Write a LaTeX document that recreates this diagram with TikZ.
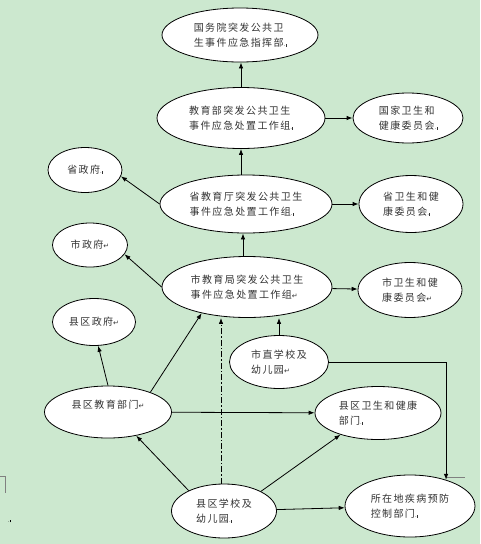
\documentclass[tikz,border=0pt]{standalone}
\usepackage{fontspec}
\usetikzlibrary{shapes.geometric,arrows.meta}
\newfontfamily\cjk[LetterSpace=14]{Noto Sans CJK SC}
\newfontfamily\symf{DejaVu Sans}
\definecolor{bggreen}{RGB}{204,232,207}
\newcommand{\retmk}{{\symf\fontsize{7}{7}\selectfont\char"21B5}}
\newcommand{\parmk}{{\fontsize{6}{6}\selectfont.\kern0.4pt\rule{0.5pt}{2.5pt}}}

\begin{document}
\begin{tikzpicture}[x=1pt, y=-1pt,
        ell/.style={ellipse, draw, fill=white, line width=0.8pt, inner sep=0pt,
            align=left, text=black!80, font=\cjk\fontsize{10}{15.5}\selectfont},
        flow/.style={line width=0.8pt, -{Latex[length=6pt,width=4.5pt]}}]
        \fill[bggreen] (0,0) rectangle (480,544);
        \useasboundingbox (0,0) rectangle (480,544);
        \node[ell, minimum width=156, minimum height=54] (gwy) at (240,35)
            {国务院突发公共卫\\生事件应急指挥部\parmk};
        \node[ell, minimum width=168, minimum height=61] (jyb) at (241,118)
            {教育部突发公共卫生\\事件应急处置工作组\parmk};
        \node[ell, minimum width=110, minimum height=50] (gjwj) at (408,118)
            {国家卫生和\\健康委员会\parmk};
        \node[ell, minimum width=172, minimum height=58] (sjyt) at (246,204)
            {省教育厅突发公共卫生\\事件应急处置工作组\parmk};
        \node[ell, minimum width=104, minimum height=57] (swj) at (411,204)
            {省卫生和健\\康委员会\parmk};
        \node[ell, minimum width=74, minimum height=45] (szf) at (85,170)
            {省政府\parmk};
        \node[ell, minimum width=75, minimum height=44] (shizf) at (90,245)
            {市政府\retmk};
        \node[ell, minimum width=170, minimum height=61] (sjyj) at (247,287)
            {市教育局突发公共卫生\\事件应急处置工作组\retmk};
        \node[ell, minimum width=104, minimum height=55] (shiwj) at (410,290)
            {市卫生和健\\康委员会\retmk};
        \node[ell, minimum width=83, minimum height=47] (xqzf) at (94,322)
            {县区政府\retmk};
        \node[ell, minimum width=99, minimum height=53] (szxx) at (279,362)
            {市直学校及\\幼儿园\retmk};
        \node[ell, minimum width=127, minimum height=52] (xqjy) at (108,412)
            {县区教育部门\retmk\\\mbox{}};
        \node[ell, minimum width=126, minimum height=53] (xqwj) at (378,413)
            {县区卫生和健康\\部门\parmk};
        \node[ell, minimum width=105, minimum height=54] (xqxx) at (224,511)
            {县区学校及\\幼儿园\parmk};
        \node[ell, minimum width=130, minimum height=62] (jkzx) at (410,506)
            {所在地疾病预防\\控制部门\parmk};
        \draw[flow] (jyb.north) -- (jyb.north |- gwy.south);
        \draw[flow] (jyb) -- (gjwj);
        \draw[flow] (jyb.south |- sjyt.north) -- (jyb.south);
        \draw[flow] (sjyt) -- (swj);
        \draw[flow] (sjyt.west) -- (szf.-10);
        \draw[flow] ([xshift=-3pt]sjyt.south |- sjyj.north) -- ([xshift=-3pt]sjyt.south);
        \draw[flow] (sjyj.west) -- (shizf.-15);
        \draw[flow] (sjyj) -- (shiwj);
        \draw[flow] (szxx.north) -- (szxx.north |- sjyj.south);
        \draw[flow, dash pattern=on 6pt off 2pt on 1.5pt off 2pt]
            ([xshift=-3pt]xqxx.north) -- ([xshift=-3pt]xqxx.north |- sjyj.south);
        \draw[flow] (szxx.east) -| (jkzx.36);
        \draw[flow] (xqjy.north) -- (xqzf.-80);
        \draw[flow] (xqjy.25) -- (sjyj.-150);
        \draw[flow] (xqjy) -- (xqwj);
        \draw[flow] (xqxx.150) -- (xqjy.-40);
        \draw[flow] (xqxx.28) -- (xqwj.-150);
        \draw[flow] (xqxx) -- (jkzx);
        \draw[gray, line width=0.7pt] (447,477) -- (465,477);
        \draw[gray, line width=0.7pt] (0,476) -- (5,476) -- (5,493);
        \node[font=\fontsize{6}{6}\selectfont, inner sep=0pt] (mk) at (9,521) {.\kern0.4pt\rule{0.5pt}{2.5pt}};
    \end{tikzpicture}
\end{document}
